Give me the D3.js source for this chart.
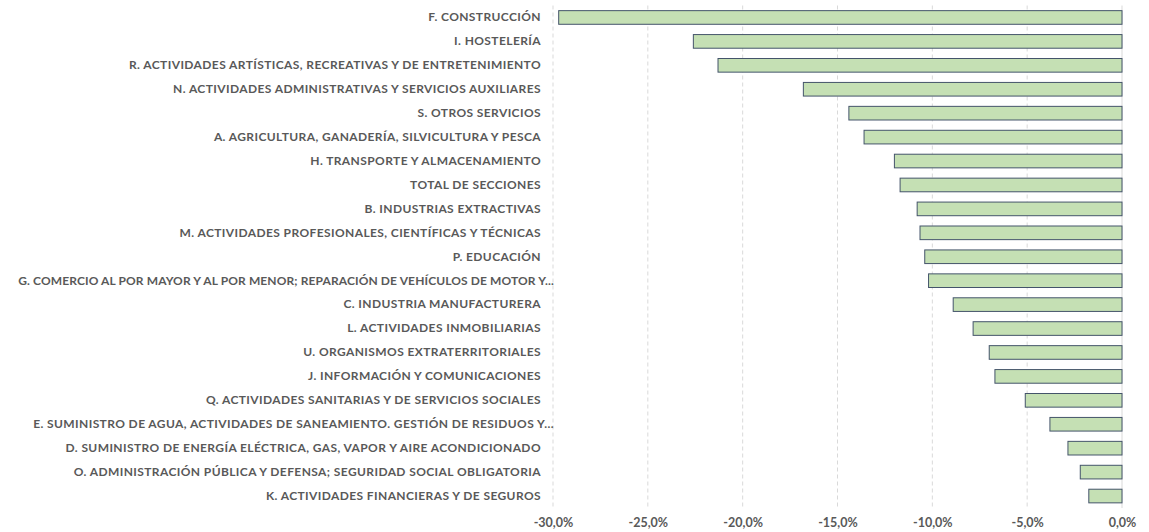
<!DOCTYPE html>
<html>
<head>
<meta charset="utf-8">
<script src="https://cdn.jsdelivr.net/npm/d3@7"></script>
<style>
  body { margin: 0; background: #fff; }
  text { font-family: Lato, "Open Sans", sans-serif; font-weight: bold; fill: #595959; }
</style>
</head>
<body>
<figure id="sectores" style="margin:0"></figure>
<script>
// sectors, top to bottom
var sectores = [
  "F. CONSTRUCCIÓN",
  "I. HOSTELERÍA",
  "R. ACTIVIDADES ARTÍSTICAS, RECREATIVAS Y DE ENTRETENIMIENTO",
  "N. ACTIVIDADES ADMINISTRATIVAS Y SERVICIOS AUXILIARES",
  "S. OTROS SERVICIOS",
  "A. AGRICULTURA, GANADERÍA, SILVICULTURA Y PESCA",
  "H. TRANSPORTE Y ALMACENAMIENTO",
  "TOTAL DE SECCIONES",
  "B. INDUSTRIAS EXTRACTIVAS",
  "M. ACTIVIDADES PROFESIONALES, CIENTÍFICAS Y TÉCNICAS",
  "P. EDUCACIÓN",
  "G. COMERCIO AL POR MAYOR Y AL POR MENOR; REPARACIÓN DE VEHÍCULOS DE MOTOR Y...",
  "C. INDUSTRIA MANUFACTURERA",
  "L. ACTIVIDADES INMOBILIARIAS",
  "U. ORGANISMOS EXTRATERRITORIALES",
  "J. INFORMACIÓN Y COMUNICACIONES",
  "Q. ACTIVIDADES SANITARIAS Y DE SERVICIOS SOCIALES",
  "E. SUMINISTRO DE AGUA, ACTIVIDADES DE SANEAMIENTO. GESTIÓN DE RESIDUOS Y...",
  "D. SUMINISTRO DE ENERGÍA ELÉCTRICA, GAS, VAPOR Y AIRE ACONDICIONADO",
  "O. ADMINISTRACIÓN PÚBLICA Y DEFENSA; SEGURIDAD SOCIAL OBLIGATORIA",
  "K. ACTIVIDADES FINANCIERAS Y DE SEGUROS"
];

// variation (%)
var variacion = [-29.7, -22.6, -21.3, -16.8, -14.4, -13.6, -12.0, -11.7, -10.8, -10.65, -10.4,
                 -10.2, -8.9, -7.85, -7.0, -6.7, -5.1, -3.8, -2.85, -2.2, -1.75];

var ticks = [-30, -25, -20, -15, -10, -5, 0];

var margin = {top: 5.5, right: 27, bottom: 24, left: 553},
    width = 1149 - margin.left - margin.right,
    height = 508 - margin.top;

var svg = d3.select("figure#sectores")
  .append("svg")
  .attr("width", 1149)
  .attr("height", 532)
  .append("g")
  .attr("transform", "translate(" + margin.left + "," + margin.top + ")");

var data = sectores.map(function(s, i) { return {sector: s, valor: variacion[i]}; });

// X axis
var x = d3.scaleLinear()
  .domain([-30, 0])
  .range([0, width]);

// Y axis (categories)
var y = d3.scaleBand()
  .domain(sectores)
  .range([0, height])
  .paddingInner(0.43)
  .paddingOuter(0.215);

// gridlines
svg.append("g")
  .selectAll("line")
  .data(ticks.slice(0, -1))
  .enter().append("line")
  .attr("x1", function(d) { return x(d); })
  .attr("x2", function(d) { return x(d); })
  .attr("y1", 0)
  .attr("y2", height)
  .attr("stroke", "#d9d9d9")
  .attr("stroke-dasharray", "4,3");

// zero line
svg.append("line")
  .attr("x1", x(0)).attr("x2", x(0))
  .attr("y1", 0).attr("y2", height)
  .attr("stroke", "#d9d9d9")
  .attr("stroke-width", 1);

// bottom tick labels
svg.append("g")
  .attr("transform", "translate(0," + height + ")")
  .call(d3.axisBottom(x).tickValues(ticks).tickSize(0).tickPadding(10)
    .tickFormat(function(d) { return d3.format(".1f")(d).replace("−", "-").replace(".", ",") + "%"; }))
  .call(function(g) { g.select(".domain").remove(); })
  .selectAll("text")
  .attr("font-size", 12.5)
  .style("font-family", null);

// category labels
var labels = svg.append("g")
  .call(d3.axisLeft(y).tickSize(0).tickPadding(12))
  .call(function(g) { g.select(".domain").remove(); })
  .selectAll("text")
  .attr("font-size", 12)
  .style("font-family", null);

// stretch letter spacing so the long labels span like in excel (R ~408, G ~545, E ~537 px)
var longOnes = labels.filter(function(d) { return /^[RGE]\./.test(d); });
var w0 = 0, chars = 0;
longOnes.each(function() { w0 += this.getComputedTextLength(); chars += this.textContent.length - 1; });
var ls = (408 + 545 + 537 - w0) / chars;
labels.style("letter-spacing", ls + "px")
  // truncated labels sit a bit further right
  .attr("dx", function(d) { return /\.\.\.$/.test(d) ? 13 : 0; });

// anything still too wide gets tighter spacing so it stays on the page
labels.each(function() {
  var w = this.getComputedTextLength();
  if (w > 536) {
    var n = this.textContent.length - 1;
    d3.select(this).style("letter-spacing", (ls - (w - 536) / n) + "px");
  }
});

// bars
svg.append("g")
  .selectAll("rect")
  .data(data)
  .enter().append("rect")
  .attr("x", function(d) { return x(d.valor); })
  .attr("y", function(d) { return y(d.sector); })
  .attr("width", function(d) { return x(0) - x(d.valor); })
  .attr("height", y.bandwidth())
  .attr("fill", "#c5e0b4")
  .attr("stroke", "#44546a")
  .attr("stroke-width", 1);
</script>
</body>
</html>
